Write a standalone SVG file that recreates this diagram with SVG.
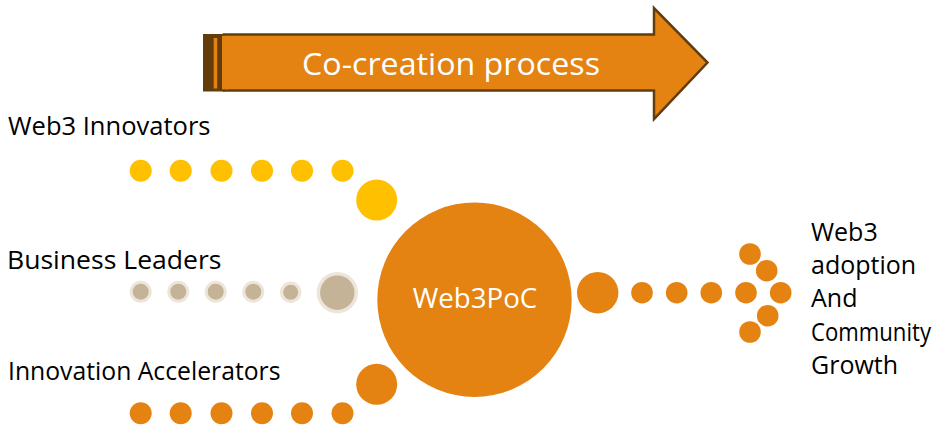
<svg xmlns="http://www.w3.org/2000/svg" width="935" height="434" viewBox="0 0 935 434">
<style>
text{font-family:"Open Sans","Liberation Sans",sans-serif;}
.lbl{font-size:25px;fill:#000;}
.wt{fill:#fff;}
.y{fill:#FFC000;}
.o{fill:#E48312;}
.br{fill:#EDE5DA;}
.bi{fill:#C4B396;}
</style>
<rect width="935" height="434" fill="#fff"/>
<g id="process-arrow">
<rect x="203.5" y="34.5" width="21" height="56.5" fill="#633C0C" stroke="#633C0C" stroke-width="1"/>
<rect x="213.7" y="38" width="3.5" height="50.5" fill="#E48312"/>
<polygon points="224,34.5 654,34.5 654,8 707.5,62.5 654,119 654,90.5 224,90.5" fill="#E48312" stroke="#633C0C" stroke-width="2.5" stroke-linejoin="miter"/>
<rect x="222" y="35.8" width="6" height="53.5" fill="#E48312"/>
<text x="451" y="75" class="wt" font-size="31" text-anchor="middle" textLength="298" lengthAdjust="spacingAndGlyphs">Co-creation process</text>
</g>
<g id="web3-innovators">
<text x="8" y="134.5" class="lbl" textLength="202.5" lengthAdjust="spacingAndGlyphs">Web3 Innovators</text>
<g class="y">
<circle cx="140.7" cy="170.7" r="11"/>
<circle cx="180.7" cy="170.7" r="11"/>
<circle cx="221.5" cy="170.7" r="11"/>
<circle cx="262" cy="170.7" r="11"/>
<circle cx="302" cy="170.7" r="11"/>
<circle cx="342.5" cy="170.7" r="11"/>
<circle cx="376.7" cy="200" r="20.5"/>
</g>
</g>
<g id="business-leaders">
<text x="7" y="269" class="lbl" font-size="26" textLength="214.5" lengthAdjust="spacingAndGlyphs">Business Leaders</text>
<g class="br">
<circle cx="140.7" cy="291.7" r="11"/>
<circle cx="178.3" cy="291.7" r="11"/>
<circle cx="215.7" cy="291.7" r="11"/>
<circle cx="253.3" cy="291.7" r="11"/>
<circle cx="290.7" cy="292.3" r="10.7"/>
<circle cx="337.3" cy="292.7" r="20.7"/>
</g>
<g class="bi">
<circle cx="140.7" cy="291.7" r="8"/>
<circle cx="178.3" cy="291.7" r="8"/>
<circle cx="215.7" cy="291.7" r="8"/>
<circle cx="253.3" cy="291.7" r="8"/>
<circle cx="290.7" cy="292.3" r="7.5"/>
<circle cx="337.3" cy="292.7" r="17.2"/>
</g>
</g>
<g id="innovation-accelerators">
<text x="8" y="379.5" class="lbl" textLength="272.5" lengthAdjust="spacingAndGlyphs">Innovation Accelerators</text>
<g class="o">
<circle cx="140.7" cy="413.3" r="11"/>
<circle cx="180.7" cy="413.3" r="11"/>
<circle cx="221.5" cy="413.3" r="11"/>
<circle cx="262" cy="413.3" r="11"/>
<circle cx="302" cy="413.3" r="11"/>
<circle cx="342.5" cy="413.3" r="11"/>
<circle cx="376.7" cy="384.3" r="20.5"/>
</g>
</g>
<g id="web3poc">
<circle cx="474.5" cy="299.7" r="97.2" class="o"/>
<text x="475" y="308.3" class="wt" font-size="28" text-anchor="middle" textLength="124.6" lengthAdjust="spacingAndGlyphs">Web3PoC</text>
</g>
<g id="connectors">
<g class="o">
<circle cx="597.7" cy="292.7" r="20.7"/>
<circle cx="642" cy="292.7" r="10.8"/>
<circle cx="676.7" cy="292.7" r="10.8"/>
<circle cx="711.3" cy="292.7" r="10.8"/>
<circle cx="746" cy="292.7" r="10.8"/>
<circle cx="780.7" cy="292.7" r="10.8"/>
<circle cx="750" cy="254" r="10.8"/>
<circle cx="766.7" cy="270.7" r="10.8"/>
<circle cx="767.7" cy="315.7" r="10.8"/>
<circle cx="750" cy="332" r="10.8"/>
</g>
</g>
<g id="web3-adoption">
<text class="lbl" font-size="24" x="811" y="241">Web3</text>
<text class="lbl" font-size="24" x="811" y="274">adoption</text>
<text class="lbl" font-size="24" x="811" y="307">And</text>
<text class="lbl" font-size="24" x="811" y="340.5" textLength="120" lengthAdjust="spacingAndGlyphs">Community</text>
<text class="lbl" font-size="24" x="811" y="374">Growth</text>
</g>
</svg>
